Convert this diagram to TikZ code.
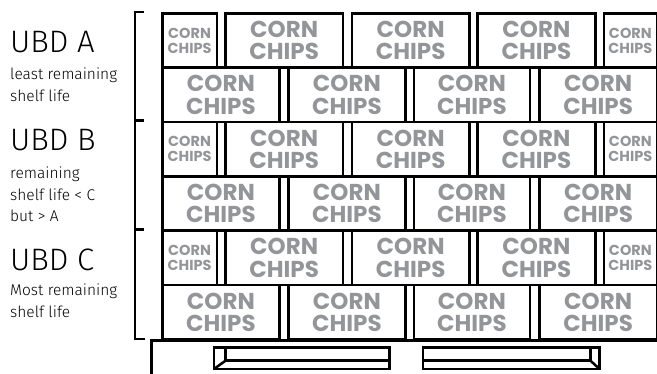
\documentclass[tikz,border=0pt]{standalone}
\usepackage{fontspec}
\usepackage{tikz}
\usetikzlibrary{positioning}
\newfontfamily\handfont{Fira Sans Light}
\newfontfamily\chipfont{Poppins}
\definecolor{chipgray}{HTML}{939598}

\begin{document}
\begin{tikzpicture}[x=1pt,y=-1pt,
 bag/.style={draw=black,line width=2.7pt,anchor=north west,minimum height=54.3pt,inner sep=0pt,align=center,text=chipgray,font=\chipfont\bfseries\fontsize{23}{22.5}\selectfont},
 minibag/.style={bag,font=\chipfont\bfseries\fontsize{14.5}{15}\selectfont},
 ubd/.style={anchor=base west,inner sep=0pt,font=\handfont\fontsize{31}{31}\selectfont},
 note/.style={anchor=north west,inner sep=0pt,align=left,font=\handfont\fontsize{15.5}{21.5}\selectfont},
 brk/.style={line width=2.8pt},
 shelfline/.style={line width=2.5pt}]
\useasboundingbox (0,0) rectangle (657,374);
% three shelves, two rows of bags each
\foreach \s/\y in {a/12,b/120.67,c/229.33}{
 \node[minibag,minimum width=54.5pt] (\s1) at (161,\y) {CORN\\CHIPS};
 \node[bag,minimum width=117.5pt] (\s2) at (224,\y) {CORN\\CHIPS};
 \node[bag,minimum width=117.5pt] (\s3) at (350.5,\y) {CORN\\CHIPS};
 \node[bag,minimum width=118pt] (\s4) at (476,\y) {CORN\\CHIPS};
 \node[minibag,minimum width=53pt] (\s5) at (602.5,\y) {CORN\\CHIPS};
 \node[bag,minimum width=117pt] (\s6) at (161,{\y+54.33}) {CORN\\CHIPS};
 \node[bag,minimum width=117pt] (\s7) at (287,{\y+54.33}) {CORN\\CHIPS};
 \node[bag,minimum width=116pt] (\s8) at (412.5,{\y+54.33}) {CORN\\CHIPS};
 \node[bag,minimum width=117.5pt] (\s9) at (538,{\y+54.33}) {CORN\\CHIPS};
}
% brackets
\draw[brk] (144,12) -- (135,12) -- (135,120.67) -- (144,120.67);
\draw[brk] (144,120.67) -- (135,120.67) -- (135,229.33) -- (144,229.33);
\draw[brk] (144,229.33) -- (135,229.33) -- (135,339) -- (145,339);
\node[ubd] (ubda) at (10,53) {UBD A};
\node[note] (nota) at (10,68) {least remaining\\shelf life};
\node[ubd] (ubdb) at (10,151) {UBD B};
\node[note] (notb) at (10,167) {remaining\\shelf life < C\\but > A};
\node[ubd] (ubdc) at (10,271) {UBD C};
\node[note] (notc) at (10,284) {Most remaining\\shelf life};
% shelf base and drawers
\draw[shelfline] (151.5,374) |- (c9.south east);
\draw[shelfline] (214,347.3) rectangle (389.5,369);
\draw[shelfline] (225.5,347.3) -- (225.5,360.7) -- (389.5,360.7);
\draw[shelfline] (225.5,360.7) -- (214,369);
\draw[shelfline] (423,347.3) rectangle (599.5,369);
\draw[shelfline] (590.5,347.3) -- (590.5,360.7) -- (423,360.7);
\draw[shelfline] (590.5,360.7) -- (599.5,369);
\end{tikzpicture}
\end{document}
